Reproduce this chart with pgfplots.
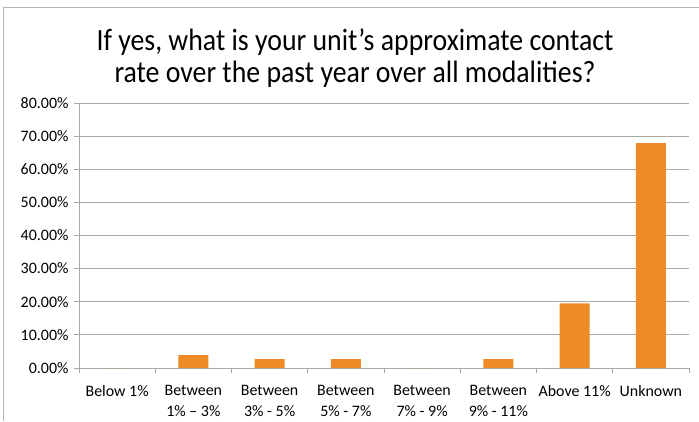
\documentclass[border=0pt]{standalone}
\usepackage{fontspec}
\setmainfont{Carlito}
\newfontfamily\titlefont[FakeStretch=0.9]{Carlito}
\usepackage{pgfplots}
\pgfplotsset{compat=1.18}
\definecolor{barOrange}{RGB}{238,139,38}
\definecolor{gridGray}{RGB}{168,168,168}
\definecolor{frameGray}{RGB}{180,180,180}

\begin{document}
\begin{tikzpicture}[x=1bp,y=1bp]
  \useasboundingbox (0,0) rectangle (699,421);
  \draw[frameGray, line width=1bp] (3.5,0) -- (3.5,413.5) -- (699,413.5);
  \node[align=center, font=\titlefont\fontsize{31}{32}\selectfont] at (355,363)
    {If yes, what is your unit’s approximate contact\\rate over the past year over all modalities?};
  \begin{axis}[
    at={(79bp,53bp)}, anchor=south west,
    scale only axis, width=610bp, height=265bp,
    ybar, bar width=30bp,
    xmin=-0.5, xmax=7.5, ymin=0, ymax=80,
    xtick={0,...,7},
    xticklabels={Below 1\%, Between\\1\% – 3\%, Between\\3\% - 5\%, Between\\5\% - 7\%,
                 Between\\7\% - 9\%, Between\\9\% - 11\%, Above 11\%, Unknown},
    minor xtick={-0.5,0.5,...,7.5},
    ytick={0,10,...,80},
    minor ytick={0,10,...,80},
    yticklabels={0.00\%,10.00\%,20.00\%,30.00\%,40.00\%,50.00\%,60.00\%,70.00\%,80.00\%},
    major tick length=0pt, minor tick length=5bp,
    tick align=outside,
    tick style={draw=gridGray, line width=1bp},
    axis x line*=bottom, axis y line*=left,
    axis line style={draw=gridGray, line width=1bp, -},
    ymajorgrids, grid style={draw=gridGray, line width=1bp},
    x tick label style={align=center, font=\fontsize{16}{21}\selectfont, yshift=-14bp},
    y tick label style={font=\fontsize{16}{20}\selectfont, xshift=-7bp},
  ]
    \addplot[fill=barOrange, draw=none] coordinates {
      (0,0) (1,3.9) (2,2.7) (3,2.7) (4,0) (5,2.7) (6,19.5) (7,67.9)};
  \end{axis}
\end{tikzpicture}
\end{document}
